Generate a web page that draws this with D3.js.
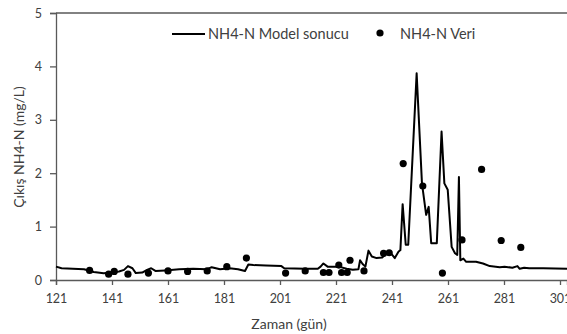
<!DOCTYPE html>
<html>
<head>
<meta charset="utf-8">
<script src="https://cdn.jsdelivr.net/npm/d3@7"></script>
<style>
    body { margin: 0; background: #fff; }
    text { font-family: Lato, "Open Sans", sans-serif; }
</style>
</head>
<body>
<div id="chart"></div>
<script>
// 1: DATA
// model line (day, mg/L)
const modelDays = [121, 123, 131, 134.5, 138, 141, 143.5, 145.3, 146.7, 148.3, 149.5, 151.8, 153.5, 155, 156.5,
    160, 165, 170, 174.8, 176.6, 179.6, 183, 186, 188.5, 189.7, 191.5, 196, 201.5, 202.5, 210,
    214.5, 215.5, 216.5, 218, 222, 224.8, 227, 229, 229.6, 230.5, 231.5, 232.6, 233.8, 235.5, 237.5,
    239, 240.5, 242, 243.3, 244, 244.8, 245.9, 246.8, 249.8, 251.7, 253.2, 254.1, 255, 257, 258.7,
    259.7, 260.9, 262.3, 263.5, 264.3, 264.9, 265.4, 266.5, 267.5, 271, 273.5, 275.9, 279.5, 281.2, 284,
    285.8, 286.6, 288.2, 290, 295, 303.5];
const modelValues = [0.25, 0.22, 0.2, 0.15, 0.125, 0.14, 0.16, 0.19, 0.26, 0.22, 0.13, 0.14, 0.19, 0.22, 0.17,
    0.18, 0.2, 0.21, 0.2, 0.24, 0.2, 0.22, 0.2, 0.17, 0.29, 0.28, 0.27, 0.26, 0.22, 0.21,
    0.21, 0.25, 0.31, 0.25, 0.25, 0.21, 0.19, 0.2, 0.37, 0.3, 0.25, 0.55, 0.44, 0.41, 0.42,
    0.5, 0.51, 0.41, 0.53, 0.56, 1.42, 0.66, 0.66, 3.87, 1.81, 1.22, 1.37, 0.69, 0.69, 2.78,
    1.81, 1.69, 0.62, 0.5, 0.47, 1.93, 0.37, 0.4, 0.34, 0.34, 0.31, 0.26, 0.24, 0.25, 0.23,
    0.26, 0.21, 0.23, 0.22, 0.22, 0.21];

// measured points
const dataDays = [133, 139.8, 141.8, 146.7, 154, 161, 168, 175, 182, 189, 203, 210, 216.5, 218.5,
    222, 223, 225, 226, 231, 238, 240, 245, 252, 259, 266, 273, 280, 287];
const dataValues = [0.18, 0.11, 0.16, 0.11, 0.13, 0.17, 0.16, 0.17, 0.25, 0.41, 0.13, 0.17, 0.14, 0.14,
    0.28, 0.14, 0.14, 0.37, 0.17, 0.5, 0.51, 2.18, 1.76, 0.13, 0.75, 2.07, 0.74, 0.61];

const xTicks = [121, 141, 161, 181, 201, 221, 241, 261, 281, 301];
const yTicks = [0, 1, 2, 3, 4, 5];

const seriesNames = ["NH4-N Model sonucu", "NH4-N Veri"];

// 2: SIZES
const totalW = 567, totalH = 334;
const margin = { top: 13, right: 0, bottom: 54, left: 56 };
const width = totalW - margin.left - margin.right;
const height = totalH - margin.top - margin.bottom;
const axisColor = "#595959";

const svg = d3.select("#chart")
    .append("svg")
    .attr("width", totalW)
    .attr("height", totalH);

const g = svg.append("g")
    .attr("transform", `translate(${margin.left},${margin.top})`);

// 3: SCALES (2.8 px per day, the plot runs past 301 out of the picture)
const xScale = d3.scaleLinear()
    .domain([121, 121 + width / 2.8])
    .range([0, width]);
const yScale = d3.scaleLinear()
    .domain([0, 5])
    .range([height, 0]);

// 4: AXES
const xAxis = g.append("g")
    .attr("transform", `translate(0,${height})`)
    .call(d3.axisBottom(xScale).tickValues(xTicks).tickFormat(d3.format("d"))
        .tickSizeOuter(0).tickSize(5).tickPadding(9));
const yAxis = g.append("g")
    .call(d3.axisLeft(yScale).tickValues(yTicks).tickFormat(d3.format("d"))
        .tickSizeOuter(0).tickSize(6).tickPadding(8));

[xAxis, yAxis].forEach(a => {
    a.select(".domain").attr("stroke", axisColor).attr("stroke-width", 1.3);
    a.selectAll(".tick line").attr("stroke", axisColor).attr("stroke-width", 1.3);
    a.selectAll(".tick text")
        .style("font-size", "12.5px")
        .style("fill", "#404040");
});

// top border
g.append("line")
    .attr("x1", 0)
    .attr("x2", width)
    .attr("y1", 0)
    .attr("y2", 0)
    .attr("stroke", axisColor)
    .attr("stroke-width", 1.3);

// 5: MODEL LINE
const line = d3.line()
    .x(d => xScale(d[0]))
    .y(d => yScale(d[1]));

g.append("path")
    .datum(modelDays.map((d, i) => [d, modelValues[i]]))
    .attr("d", line)
    .style("fill", "none")
    .style("stroke", "#000")
    .style("stroke-width", 2)
    .style("stroke-linejoin", "round");

// 6: DATA POINTS
g.selectAll(".dot")
    .data(dataDays.map((d, i) => [d, dataValues[i]]))
    .enter()
    .append("circle")
    .attr("class", "dot")
    .attr("cx", d => xScale(d[0]))
    .attr("cy", d => yScale(d[1]))
    .attr("r", 3.6)
    .style("fill", "#000");

// 7: LABELS
svg.append("text")
    .attr("x", 289)
    .attr("y", 329)
    .attr("text-anchor", "middle")
    .style("font-size", "14px")
    .style("fill", "#404040")
    .text("Zaman (gün)");

svg.append("text")
    .attr("transform", "rotate(-90)")
    .attr("x", -147)
    .attr("y", 24)
    .attr("text-anchor", "middle")
    .style("font-size", "14px")
    .style("fill", "#404040")
    .text("Çıkış NH4-N (mg/L)");

// 8: LEGEND
const legend = svg.append("g")
    .attr("transform", "translate(172,34)");
legend.append("line")
    .attr("x1", 0)
    .attr("x2", 33)
    .attr("stroke", "#000")
    .attr("stroke-width", 2);
legend.append("text")
    .attr("x", 36)
    .attr("y", 5)
    .style("font-size", "14.5px")
    .style("fill", "#404040")
    .text(seriesNames[0]);
legend.append("circle")
    .attr("cx", 208)
    .attr("cy", -1)
    .attr("r", 3.6)
    .style("fill", "#000");
legend.append("text")
    .attr("x", 228)
    .attr("y", 5)
    .style("font-size", "14.5px")
    .style("fill", "#404040")
    .text(seriesNames[1]);
</script>
</body>
</html>
